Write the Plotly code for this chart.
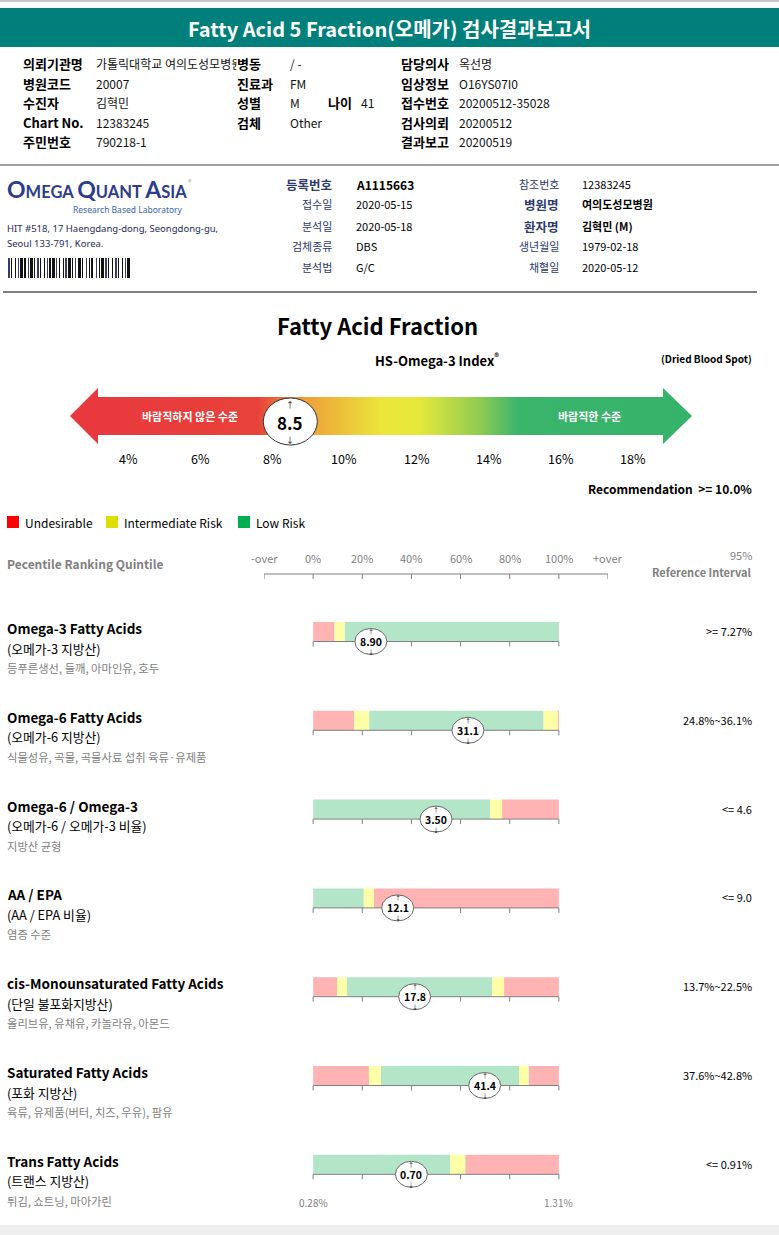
import plotly.graph_objects as go

W, H = 779, 1235
FONT = "Noto Sans CJK KR, Noto Sans, sans-serif"

# ---------------- data ----------------
info_rows = [
    [("의뢰기관명", "가톨릭대학교 여의도성모병원"), ("병동", "/ -"), None, ("담당의사", "옥선명")],
    [("병원코드", "20007"), ("진료과", "FM"), None, ("임상정보", "O16YS07I0")],
    [("수진자", "김혁민"), ("성별", "M"), ("나이", "41"), ("접수번호", "20200512-35028")],
    [("Chart No.", "12383245"), ("검체", "Other"), None, ("검사의뢰", "20200512")],
    [("주민번호", "790218-1"), None, None, ("결과보고", "20200519")],
]
lab_mid_labels = ["등록번호", "접수일", "분석일", "검체종류", "분석법"]
lab_mid_values = ["A1115663", "2020-05-15", "2020-05-18", "DBS", "G/C"]
lab_right_labels = ["참조번호", "병원명", "환자명", "생년월일", "채혈일"]
lab_right_values = ["12383245", "여의도성모병원", "김혁민 (M)", "1979-02-18", "2020-05-12"]

index_ticks = [4, 6, 8, 10, 12, 14, 16, 18]
index_value = 8.5
index_recommendation = ">= 10.0%"

quintile_ticks = [-20, 0, 20, 40, 60, 80, 100, 120]
quintile_labels = ["-over", "0%", "20%", "40%", "60%", "80%", "100%", "+over"]

names = ["Omega-3 Fatty Acids", "Omega-6 Fatty Acids", "Omega-6 / Omega-3", "AA / EPA",
         "cis-Monounsaturated Fatty Acids", "Saturated Fatty Acids", "Trans Fatty Acids"]
names_kr = ["(오메가-3 지방산)", "(오메가-6 지방산)", "(오메가-6 / 오메가-3 비율)", "(AA / EPA 비율)",
            "(단일 불포화지방산)", "(포화 지방산)", "(트랜스 지방산)"]
descriptions = ["등푸른생선, 들깨, 아마인유, 호두", "식물성유, 곡물, 곡물사료 섭취 육류·유제품", "지방산 균형",
                "염증 수준", "올리브유, 유채유, 카놀라유, 아몬드", "육류, 유제품(버터, 치즈, 우유), 팜유",
                "튀김, 쇼트닝, 마아가린"]
value_labels = ["8.90", "31.1", "3.50", "12.1", "17.8", "41.4", "0.70"]
value_percentiles = [23.5, 63.0, 50.0, 34.4, 41.3, 69.8, 40.0]
reference_intervals = [">= 7.27%", "24.8%~36.1%", "<= 4.6", "<= 9.0", "13.7%~22.5%", "37.6%~42.8%", "<= 0.91%"]
zone_ends = [
    [8.7, 12.8, 100],
    [16.7, 22.8, 93.8, 99.6, 100],
    [72.0, 76.9, 100],
    [20.6, 24.7, 100],
    [9.7, 13.8, 72.9, 77.7, 100],
    [22.7, 27.5, 83.8, 87.7, 100],
    [55.8, 61.9, 100],
]
zone_kinds = [
    ["U", "I", "L"],
    ["U", "I", "L", "I", "U"],
    ["L", "I", "U"],
    ["L", "I", "U"],
    ["U", "I", "L", "I", "U"],
    ["U", "I", "L", "I", "U"],
    ["L", "I", "U"],
]
trans_scale_labels = ["0.28%", "1.31%"]

# ---------------- styles ----------------
ZONE_COL = {"U": "#ffb3b3", "I": "#ffffa8", "L": "#b3e6c8"}
ZONE_NAME = {"U": "Undesirable", "I": "Intermediate Risk", "L": "Low Risk"}
TEAL = "#007f7b"
NAVY = "#2d3c8c"
GRAY = "#808080"

ROW_TOP0 = 622
ROW_STEP = 88.8
BAR_H = 19.5

# index scale: 4% at 128px, 18% at 633px
PX_PER_PCT = (633 - 128) / 14
idx_lo = 4 - 128 / PX_PER_PCT
idx_hi = 4 + (W - 128) / PX_PER_PCT


def px2idx(px):
    return idx_lo + px / PX_PER_PCT


fig = go.Figure()
anns = []
shapes = []


def T(x, y, s, size=12, color="#000", bold=False, xa="left", xref="x4", family=FONT, bg=None):
    a = dict(x=x, y=y, xref=xref, yref="y", text=("<b>%s</b>" % s if bold else s),
             showarrow=False, xanchor=xa, yanchor="middle",
             font=dict(size=size, color=color, family=family))
    if bg:
        a["bgcolor"] = bg
        a["borderpad"] = 0
    anns.append(a)


def R(x0, y0, x1, y1, color, xref="x4", layer="below"):
    shapes.append(dict(type="rect", xref=xref, yref="y", x0=x0, x1=x1, y0=y0, y1=y1,
                       fillcolor=color, line=dict(width=0), layer=layer))


def L(x0, y0, x1, y1, color, width=1, xref="x4"):
    shapes.append(dict(type="line", xref=xref, yref="y", x0=x0, x1=x1, y0=y0, y1=y1,
                       line=dict(color=color, width=width)))


# invisible anchor trace for pixel axis
fig.add_trace(go.Scatter(x=[0, W], y=[0, H], xaxis="x4", yaxis="y", mode="markers",
                         marker=dict(opacity=0), hoverinfo="skip", showlegend=False))

# ---------------- header ----------------
L(0, 1, W, 1, "#c8c8c8", 2)
R(0, 8, W, 47, TEAL)
T(W / 2, 28, "Fatty Acid 5 Fraction(오메가) 검사결과보고서", 20, "white", True, "center")

info_y = [63, 83, 102, 122, 141]
col_x = [(21, 94), (236, 288), (326, 359), (399, 457)]
for r, row in enumerate(info_rows):
    for c, cell in enumerate(row):
        if cell is None:
            continue
        lab, val = cell
        T(col_x[c][0], info_y[r], lab, 13, "#000", True, bg="white" if c == 1 else None)
        T(col_x[c][1], info_y[r], val, 12, "#111")

L(0, 165, W, 165, "#a0a0a0", 2)

# ---------------- lab block ----------------
logo = ("<span style='font-size:23px'>O</span><span style='font-size:16.5px'>MEGA </span>"
        "<span style='font-size:23px'>Q</span><span style='font-size:16.5px'>UANT </span>"
        "<span style='font-size:23px'>A</span><span style='font-size:16.5px'>SIA</span>")
T(5, 189, logo, 16.5, NAVY, True, family="Lato, Noto Sans, sans-serif")
T(186, 182, "®", 7, "#999")
T(128, 209, "Research Based Laboratory", 8.5, "#3a62b0", xa="center", family="Noto Sans, sans-serif")
T(5, 228, "HIT #518, 17 Haengdang-dong, Seongdong-gu,", 9.5, "#1f2a5a", family="Noto Sans, sans-serif")
T(5, 243, "Seoul 133-791, Korea.", 9.5, "#1f2a5a", family="Noto Sans, sans-serif")

barcode_pattern = "2113121131221131122113121121311213112131121231131211231211312113122113121131"
bx = 8
for i, ch in enumerate(barcode_pattern):
    w = int(ch)
    if i % 2 == 0 and bx + w <= 147:
        R(bx, 258, bx + w, 278, "#111" if i % 6 else "#3a3a6a")
    bx += w

mid_y = [184, 204, 226, 246, 267]
for i, (lab, val) in enumerate(zip(lab_mid_labels, lab_mid_values)):
    bold = i == 0
    T(334, mid_y[i], lab, 12.5 if bold else 11, "#2d3a6a", bold, "right")
    T(354, mid_y[i], val, 12 if bold else 11, "#000", bold)
for i, (lab, val) in enumerate(zip(lab_right_labels, lab_right_values)):
    bold = i in (1, 2)
    T(561, mid_y[i], lab, 12.5 if bold else 11, "#2d3a6a", bold, "right")
    T(580, mid_y[i], val, 11, "#000", bold)

L(3, 292, 757, 292, "#000", 1)

# ---------------- Omega-3 index ----------------
T(377, 325, "Fatty Acid Fraction", 22, "#000", True, "center")
T(437, 360, "HS-Omega-3 Index<sup>®</sup>", 13, "#000", True, "center")
T(754, 358, "(Dried Blood Spot)", 10, "#000", True, "right")

arrow_px = [70, 98, 98, 663, 663, 692, 663, 663, 98, 98, 70]
arrow_py = [416, 388, 397, 397, 388, 416, 444, 435, 435, 444, 416]
fig.add_trace(go.Scatter(
    x=[px2idx(p) for p in arrow_px], y=arrow_py, xaxis="x3", yaxis="y",
    mode="lines", line=dict(width=0), fill="toself",
    fillgradient=dict(type="horizontal", colorscale=[
        [0.0, "#e8383d"], [0.30, "#e8413a"], [0.38, "#eea03a"], [0.50, "#ebe53a"],
        [0.56, "#e6e93b"], [0.66, "#8ecb52"], [0.72, "#3bb46c"], [1.0, "#36b36a"]]),
    hoverinfo="skip", showlegend=False))
T(px2idx(190), 416, "바람직하지 않은 수준", 11, "white", True, "center", xref="x3")
T(px2idx(589), 416, "바람직한 수준", 11, "white", True, "center", xref="x3")

for t in index_ticks:
    T(t, 458, "%d%%" % t, 12.5, "#000", False, "center", xref="x3")

shapes.append(dict(type="circle", xref="x3", yref="y", xsizemode="pixel", xanchor=index_value,
                   x0=-27, x1=27, y0=398, y1=445, fillcolor="white",
                   line=dict(color="#333", width=1), layer="above"))
T(index_value, 422, "8.5", 17, "#000", True, "center", xref="x3")
T(index_value, 404, "↑", 8, "#000", False, "center", xref="x3")
T(index_value, 439, "↓", 8, "#000", False, "center", xref="x3")

T(754, 488, "Recommendation  " + index_recommendation, 12, "#000", True, "right")

# ---------------- legend ----------------
leg = [(7, "#ff0000", "U"), (106, "#dede00", "I"), (238, "#00b050", "L")]
for x0, col, k in leg:
    R(x0, 516, x0 + 12, 528, col)
    T(x0 + 16, 522, ZONE_NAME[k], 12, "#000")

# ---------------- quintile header ----------------
T(5, 563, "Pecentile Ranking Quintile", 12, GRAY, True)
for t, lab in zip(quintile_ticks, quintile_labels):
    T(t, 558, lab, 11, GRAY, False, "center", xref="x")
    L(t, 574, t, 579, GRAY, 1, xref="x")
L(quintile_ticks[0], 574, quintile_ticks[-1], 574, GRAY, 1, xref="x")
T(754, 555, "95%", 11, GRAY, False, "right")
T(754, 572, "Reference Interval", 11, GRAY, True, "right")

# ---------------- rows ----------------
bars = {k: dict(x=[], base=[], y=[]) for k in "UIL"}
for i in range(len(names)):
    top = ROW_TOP0 + i * ROW_STEP
    yc = top + BAR_H / 2
    start = 0
    for end, k in zip(zone_ends[i], zone_kinds[i]):
        bars[k]["x"].append(end - start)
        bars[k]["base"].append(start)
        bars[k]["y"].append(yc)
        start = end

for k in "ULI":
    fig.add_trace(go.Bar(orientation="h", x=bars[k]["x"], base=bars[k]["base"], y=bars[k]["y"],
                         width=BAR_H, marker=dict(color=ZONE_COL[k], line=dict(width=0)),
                         xaxis="x", yaxis="y", showlegend=False, hoverinfo="skip"))

mx, my, mt = [], [], []
for i in range(len(names)):
    top = ROW_TOP0 + i * ROW_STEP
    bot = top + BAR_H
    T(5, top + 6, names[i], 13.5, "#000", True)
    T(5, top + 26, names_kr[i], 12.8, "#000")
    T(5, top + 46, descriptions[i], 11.3, GRAY)
    T(754, top + 9, reference_intervals[i], 11, "#000", False, "right")
    # tick line under bar
    L(0, bot, 100, bot, GRAY, 1, xref="x")
    for t in quintile_ticks[1:-1]:
        L(t, bot, t, bot + 5, GRAY, 1, xref="x")
    p = value_percentiles[i]
    shapes.append(dict(type="circle", xref="x", yref="y", xsizemode="pixel", xanchor=p,
                       x0=-16, x1=16, ysizemode="pixel", yanchor=bot, y0=-13, y1=13,
                       fillcolor="white", line=dict(color="#666", width=1), layer="above"))
    mx.append(p)
    my.append(bot)
    mt.append("<b>%s</b>" % value_labels[i])
    T(p, bot - 10, "↑", 6, "#000", False, "center", xref="x")
    T(p, bot + 10, "↓", 6, "#000", False, "center", xref="x")

anns_vals = [dict(x=x, y=y, xref="x", yref="y", text=t, showarrow=False, xanchor="center",
                  yanchor="middle", font=dict(size=10.5, color="#000", family=FONT))
             for x, y, t in zip(mx, my, mt)]

last_bot = ROW_TOP0 + 6 * ROW_STEP + BAR_H
T(0, last_bot + 28, trans_scale_labels[0], 10, GRAY, False, "center", xref="x")
T(100, last_bot + 28, trans_scale_labels[1], 10, GRAY, False, "center", xref="x")

R(0, 1225, W, H, "#efefef")

fig.update_layout(
    width=W, height=H, margin=dict(l=0, r=0, t=0, b=0),
    paper_bgcolor="white", plot_bgcolor="rgba(0,0,0,0)",
    barmode="overlay", showlegend=False, font=dict(family=FONT),
    xaxis=dict(domain=[264 / W, 608 / W], range=[-20, 120], visible=False, anchor="y", fixedrange=True),
    xaxis3=dict(domain=[0, 1], range=[idx_lo, idx_hi], visible=False, anchor="y", fixedrange=True),
    xaxis4=dict(domain=[0, 1], range=[0, W], visible=False, anchor="y", fixedrange=True),
    yaxis=dict(domain=[0, 1], range=[H, 0], visible=False, fixedrange=True),
    shapes=shapes, annotations=anns + anns_vals,
)

fig.write_html("out.html", config={"displayModeBar": False},
               post_script="document.body.style.margin='0';document.body.style.overflow='hidden';")
